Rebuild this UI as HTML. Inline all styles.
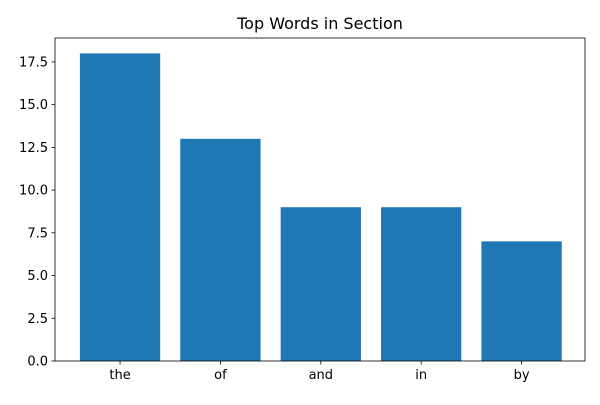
<!DOCTYPE html>
<html><head><meta charset="utf-8"><style>
body{margin:0;background:#fff;width:600px;height:400px;overflow:hidden}
text{font-family:"DejaVu Sans","Liberation Sans",sans-serif;fill:#000}
</style></head><body>
<svg id="chart" width="600" height="400" xmlns="http://www.w3.org/2000/svg">
<rect width="600" height="400" fill="#fff"/>
<text x="320" y="29" font-size="16" text-anchor="middle">Top Words in Section</text>
<g id="bars"></g><g id="axes"></g>
</svg>
<script>
const categories=["the","of","and","in","by"];
const values=[18,13,9,9,7];
const yTicks=[0,2.5,5,7.5,10,12.5,15,17.5];
const yTickLabels=["0.0","2.5","5.0","7.5","10.0","12.5","15.0","17.5"];
const L=55,R=585,T=38,B=361;
const yMax=Math.max(...values)*1.05;
const xMin=-0.64,xMax=categories.length-1+0.64;
const xS=v=>L+0.8+(v-xMin)/(xMax-xMin)*(R-L);
const yS=v=>B-v/yMax*(B-T);
const NS="http://www.w3.org/2000/svg";
const bars=document.getElementById('bars'),axes=document.getElementById('axes');
function mk(tag,attrs,parent){const e=document.createElementNS(NS,tag);for(const k in attrs)e.setAttribute(k,attrs[k]);parent.appendChild(e);return e;}
values.forEach((v,i)=>{
 const r=mk('rect',{x:xS(i-0.4),y:yS(v),width:xS(i+0.4)-xS(i-0.4),height:B-yS(v),fill:'#1f77b4'},bars);
 
 
 mk('line',{x1:xS(i),x2:xS(i),y1:B,y2:B+3.5,stroke:'#000','stroke-width':0.8},axes);
 const t=mk('text',{x:xS(i),y:B+18,'font-size':13,'text-anchor':'middle'},axes);
 t.textContent=categories[i];
 
 
});
yTicks.forEach((v,i)=>{
 mk('line',{x1:L-3.5,x2:L,y1:yS(v),y2:yS(v),stroke:'#000','stroke-width':0.8},axes);
 const t=mk('text',{x:L-7,y:yS(v)+4.5,'font-size':13,'text-anchor':'end'},axes);
 t.textContent=yTickLabels[i];
 
 
});
const f=mk('rect',{x:L,y:T,width:R-L,height:B-T,fill:'none',stroke:'#000','stroke-width':0.8},axes);


</script>
</body></html>
